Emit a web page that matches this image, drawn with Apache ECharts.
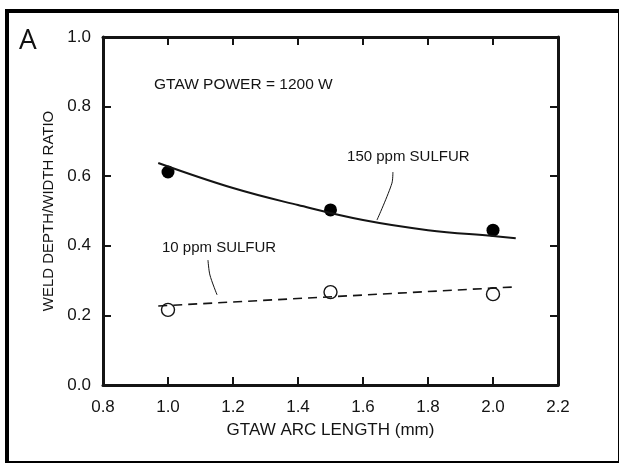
<!DOCTYPE html>
<html>
<head>
<meta charset="utf-8">
<script src="https://cdn.jsdelivr.net/npm/echarts@6/dist/echarts.min.js"></script>
<style>
html, body { margin: 0; padding: 0; background: #fff; }
#chart { width: 619px; height: 463px; }
</style>
</head>
<body>
<div id="chart"></div>
<script>
const arcLength = [1.0, 1.5, 2.0]
const sulfur150 = [0.612, 0.503, 0.445]
const sulfur10 = [0.216, 0.267, 0.261]
// fitted curves as drawn in the figure
const fit150X = [0.97, 1.2, 1.4, 1.6, 1.8, 2.0, 2.07]
const fit150Y = [0.638, 0.566, 0.517, 0.474, 0.445, 0.428, 0.422]
const fit10X = [0.97, 2.07]
const fit10Y = [0.227, 0.282]
// annotation leader lines, in data units
const leader150 = [[1.692, 0.612], [1.689, 0.580], [1.643, 0.474]]
const leader10 = [[1.123, 0.359], [1.129, 0.316], [1.151, 0.259]]
// annotation texts, anchored at left / middle
const notes = [
  { text: 'GTAW POWER = 1200 W', at: [0.957, 0.862], size: 15.5 },
  { text: '150 ppm SULFUR', at: [1.551, 0.655], size: 15 },
  { text: '10 ppm SULFUR', at: [0.9815, 0.394], size: 15 }
]

const font = "'Liberation Sans', Arial, sans-serif"
const ink = '#141414'
const zip = (xs, ys) => xs.map((x, i) => [x, ys[i]])

function xAxis(position, labels) {
  return {
    type: 'value', position: position, min: 0.8, max: 2.2, interval: 0.2,
    name: labels ? 'GTAW ARC LENGTH (mm)' : '',
    nameLocation: 'middle', nameGap: 37,
    nameTextStyle: { fontFamily: font, fontSize: 17, color: ink },
    axisLine: { show: true, onZero: false, lineStyle: { color: ink, width: 3 } },
    axisTick: { show: true, inside: true, length: 8, lineStyle: { color: ink, width: 2 } },
    axisLabel: { show: labels, margin: 14, fontFamily: font, fontSize: 17, color: ink,
      formatter: v => v.toFixed(1) },
    splitLine: { show: false }
  }
}
function yAxis(position, labels) {
  return {
    type: 'value', position: position, min: 0, max: 1.0, interval: 0.2,
    name: labels ? 'WELD DEPTH/WIDTH RATIO' : '',
    nameLocation: 'middle', nameGap: 46,
    nameTextStyle: { fontFamily: font, fontSize: 15, color: ink },
    axisLine: { show: true, onZero: false, lineStyle: { color: ink, width: 3 } },
    axisTick: { show: true, inside: true, length: 8, lineStyle: { color: ink, width: 2 } },
    axisLabel: { show: labels, margin: 12, fontFamily: font, fontSize: 17, color: ink,
      formatter: v => v.toFixed(1) },
    splitLine: { show: false }
  }
}

const chart = echarts.init(document.getElementById('chart'), null, { renderer: 'canvas' })
chart.setOption({
  backgroundColor: '#fff',
  animation: false,
  grid: { left: 103, right: 61, top: 37, bottom: 78 },
  xAxis: [xAxis('bottom', true), xAxis('top', false)],
  yAxis: [yAxis('left', true), yAxis('right', false)],
  series: [
    {
      name: 'fit 150', type: 'line', smooth: 0.4, showSymbol: false, silent: true,
      lineStyle: { color: ink, width: 2 },
      data: zip(fit150X, fit150Y)
    },
    {
      name: 'fit 10', type: 'line', showSymbol: false, silent: true,
      lineStyle: { color: ink, width: 1.6, type: [9, 6] },
      data: zip(fit10X, fit10Y)
    },
    {
      name: 'leader 150', type: 'line', smooth: 0.3, showSymbol: false, silent: true,
      lineStyle: { color: ink, width: 1 },
      data: leader150
    },
    {
      name: 'leader 10', type: 'line', smooth: 0.3, showSymbol: false, silent: true,
      lineStyle: { color: ink, width: 1 },
      data: leader10
    },
    {
      name: '150 ppm SULFUR', type: 'scatter', symbol: 'circle', symbolSize: 13,
      itemStyle: { color: '#000', opacity: 1 },
      data: zip(arcLength, sulfur150)
    },
    {
      name: '10 ppm SULFUR', type: 'scatter', symbol: 'circle', symbolSize: 13,
      itemStyle: { color: 'rgba(0,0,0,0)', borderColor: ink, borderWidth: 1.4, opacity: 1 },
      data: zip(arcLength, sulfur10)
    }
  ]
})

const graphics = [
  {
    type: 'rect', silent: true,
    shape: { x: 7, y: 11, width: 613, height: 452 },
    style: { fill: null, stroke: '#000', lineWidth: 4 }
  },
  {
    type: 'text', left: 19, top: 27,
    style: { text: 'A', font: "28px 'Open Sans', 'Noto Sans', sans-serif", fill: '#111' }
  }
]
notes.forEach(n => {
  const p = chart.convertToPixel({ gridIndex: 0 }, n.at)
  graphics.push({
    type: 'text', x: p[0], y: p[1],
    style: { text: n.text, font: n.size + 'px ' + font, fill: ink,
      textAlign: 'left', textVerticalAlign: 'middle' }
  })
})
chart.setOption({ graphic: graphics })
</script>
</body>
</html>
